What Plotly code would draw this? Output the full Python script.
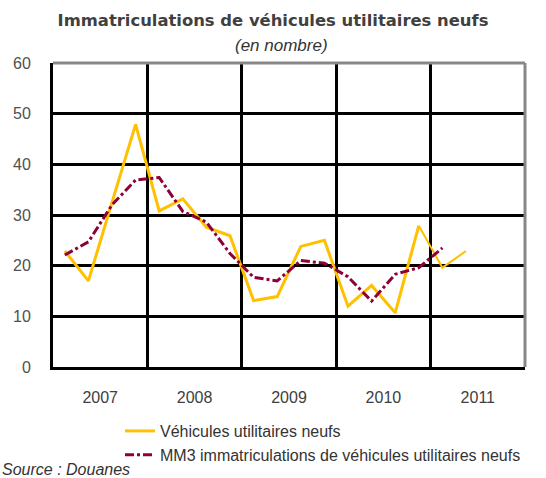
import plotly.graph_objects as go

years = ["2007", "2008", "2009", "2010", "2011"]
# quarterly values, 2007 Q1 .. 2011 Q2
vu = [22.9, 17.0, 32.5, 47.9, 30.8, 33.2, 27.6, 25.9, 13.1, 13.9,
      23.8, 25.0, 12.0, 16.1, 10.7, 27.9, 19.6, 22.9]
mm3 = [22.1, 24.7, 32.0, 36.9, 37.4, 30.7, 28.6, 22.4, 17.7, 17.0,
       21.0, 20.5, 17.8, 13.0, 18.3, 19.6, 23.5]
n_thick = 16  # last points drawn thinner

xq = [(i + 0.5) / 4 for i in range(len(vu))]

ORANGE = "#FFC000"
MAROON = "#8E0038"

fig = go.Figure()
fig.add_trace(go.Scatter(x=xq[:n_thick], y=vu[:n_thick], mode="lines",
                         line=dict(color=ORANGE, width=3), legendgroup="a",
                         name="Véhicules utilitaires neufs"))
fig.add_trace(go.Scatter(x=xq[n_thick - 1:], y=vu[n_thick - 1:], mode="lines",
                         line=dict(color=ORANGE, width=2), legendgroup="a",
                         showlegend=False))
fig.add_trace(go.Scatter(x=xq[:len(mm3)], y=mm3, mode="lines",
                         line=dict(color=MAROON, width=3, dash="dashdot"), legendgroup="b",
                         name="MM3 immatriculations de véhicules utilitaires neufs"))

font_txt = "Liberation Sans, Arial, sans-serif"

PT, PB = 63, 367  # plot top / bottom in pixels
PH = PB - PT
PL, PR = 53, 525
PW = PR - PL

fig.update_layout(
    width=546, height=478,
    margin=dict(l=PL, r=546 - PR, t=PT, b=478 - PB, autoexpand=False),
    paper_bgcolor="white", plot_bgcolor="white",
    title=dict(text="<b>Immatriculations de véhicules utilitaires neufs</b>",
               x=0.5, xanchor="center", y=1 - 20 / 478, yanchor="middle",
               font=dict(family="DejaVu Sans, Verdana, sans-serif", size=16.4, color="#404040")),
    font=dict(family=font_txt, size=16, color="#404040"),
    showlegend=True,
    legend=dict(x=(120 - PL) / PW, xanchor="left", y=(PB - 414) / PH, yanchor="top",
                bgcolor="rgba(0,0,0,0)", font=dict(family=font_txt, size=16, color="#333333"),
                traceorder="grouped", tracegroupgap=0),
    xaxis=dict(range=[0, 5], tickmode="array", tickvals=[i + 0.5 for i in range(len(years))],
               ticktext=years, showgrid=False, zeroline=False, automargin=False,
               showline=True, linecolor="black", linewidth=3, mirror=False,
               ticks="", ticklabelstandoff=14,
               tickfont=dict(family=font_txt, size=16, color="#404040"),
               minor=dict(dtick=1, tick0=0, showgrid=True, gridcolor="black", gridwidth=2.5),
               fixedrange=True),
    yaxis=dict(range=[0, 60], dtick=10, showgrid=True, gridcolor="black", gridwidth=2.5,
               zeroline=False, showline=True, linecolor="black", linewidth=3, automargin=False,
               ticks="", tickfont=dict(family=font_txt, size=16, color="#505050"),
               ticklabelstandoff=16, fixedrange=True),
)

# gray top and right border
fig.add_shape(type="line", xref="paper", yref="paper", x0=0, x1=1, y0=1, y1=1,
              line=dict(color="#888888", width=3))
fig.add_shape(type="line", xref="paper", yref="paper", x0=1, x1=1, y0=0, y1=1,
              line=dict(color="#888888", width=3))

fig.add_annotation(text="<i>(en nombre)</i>", xref="paper", yref="paper",
                   x=(281 - PL) / PW, y=(PB - 46) / PH, xanchor="center", yanchor="middle",
                   showarrow=False, font=dict(family=font_txt, size=17, color="#333333"))
fig.add_annotation(text="<i>Source : Douanes</i>", xref="paper", yref="paper",
                   x=-PL / PW, y=(PB - 469) / PH, xanchor="left", yanchor="middle",
                   showarrow=False, font=dict(family=font_txt, size=16, color="#333333"))

fig.write_html("out.html", include_plotlyjs=True,
               config={"displayModeBar": False},
               post_script="document.body.style.margin='0';")
